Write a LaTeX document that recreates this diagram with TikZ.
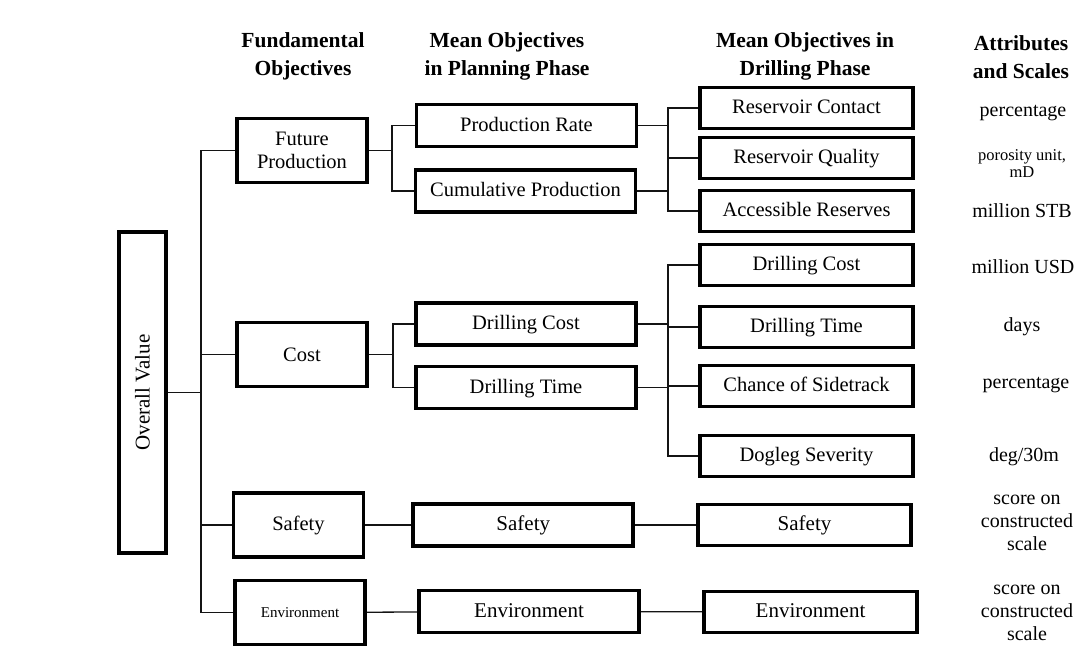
\documentclass[tikz,border=0pt]{standalone}
\usepackage{fontspec}
\setmainfont{Liberation Serif}
\usepackage{xcolor}
\usepackage{tikz}
\usetikzlibrary{positioning, calc}
\definecolor{boxblack}{RGB}{0, 0, 0}
\definecolor{linkgray}{RGB}{20, 20, 20}

\begin{document}
\begin{tikzpicture}[
    x=1pt, y=-1pt,
    every node/.style={font=\fontsize{20.5}{22.5}\selectfont},
    rootbox/.style={rectangle, draw=boxblack, line width=3.8pt, minimum width=47pt,
                    minimum height=321pt, inner sep=0pt},
    fundbox/.style={rectangle, draw=boxblack, line width=3.8pt, minimum width=130pt,
                    minimum height=64pt, align=center, inner sep=2pt},
    meanbox/.style={rectangle, draw=boxblack, line width=3.8pt, minimum width=220pt,
                    minimum height=42pt, align=center, inner sep=2pt,
                    text height=15pt, text depth=4pt},
    drillbox/.style={rectangle, draw=boxblack, line width=3.8pt, minimum width=213pt,
                     minimum height=41pt, align=center, inner sep=2pt,
                     text height=15pt, text depth=4pt},
    headtext/.style={align=center, font=\fontsize{21.5}{28}\selectfont\bfseries},
    scaletext/.style={align=center, font=\fontsize{20}{23}\selectfont},
    link/.style={line width=1.3pt, color=linkgray}
]
\useasboundingbox (0,0) rectangle (1079,654);

% Headers
\node[headtext] (h1) at (303,56) {Fundamental\\Objectives};
\node[headtext] (h2) at (507,56) {Mean Objectives\\in Planning Phase};
\node[headtext] (h3) at (805,56) {Mean Objectives in\\Drilling Phase};
\node[headtext] (h4) at (1021,57) {Attributes\\and Scales};

% Root
\node[rootbox] (ov) at (142.5,392.5) {\rotatebox{90}{\fontsize{21}{22}\selectfont Overall Value}};

% Fundamental objectives
\node[fundbox] (fp) at (302,150.5) {Future\\Production};
\node[fundbox] (cost) at (302,354.5) {Cost};
\node[fundbox] (safety) at (298.5,525) {Safety};
\node[fundbox, font=\fontsize{15}{18}\selectfont] (env) at (300,612.5) {Environment};

% Planning phase
\node[meanbox] (pr) at (526.5,125.5) {Production Rate};
\node[meanbox] (cp) at (525.5,191) {Cumulative Production};
\node[meanbox] (dc) at (526,324) {Drilling Cost};
\node[meanbox] (dt) at (526,387.5) {Drilling Time};
\node[meanbox, font=\fontsize{21}{22}\selectfont, right=46pt of safety] (safm) {Safety};
\node[meanbox, font=\fontsize{21}{22}\selectfont] (envm) at (529,611.5) {Environment};

% Drilling phase
\node[drillbox] (rc) at (806.5,108) {Reservoir Contact};
\node[drillbox] (rq) at (806.5,158) {Reservoir Quality};
\node[drillbox] (ar) at (806.5,211) {Accessible Reserves};
\node[drillbox] (dcr) at (806.5,265) {Drilling Cost};
\node[drillbox] (dtr) at (806.5,327) {Drilling Time};
\node[drillbox] (cs) at (806.5,386) {Chance of Sidetrack};
\node[drillbox] (ds) at (806.5,456) {Dogleg Severity};
\node[drillbox, font=\fontsize{21}{22}\selectfont] (safr) at (804.5,525) {Safety};
\node[drillbox, font=\fontsize{21}{22}\selectfont] (envr) at (810.5,612) {Environment};

% Attributes
\node[scaletext] (a1) at (1023,113) {percentage};
\node[scaletext, font=\fontsize{16.5}{17}\selectfont] (a2) at (1022,164) {porosity unit,\\mD};
\node[scaletext] (a3) at (1022,211) {million STB};
\node[scaletext] (a4) at (1023,267) {million USD};
\node[scaletext] (a5) at (1022,327) {days};
\node[scaletext] (a6) at (1026,385) {percentage};
\node[scaletext] (a7) at (1024,457) {deg/30m};
\node[scaletext] (a8) at (1027,523) {score on\\constructed\\scale};
\node[scaletext] (a9) at (1027,613) {score on\\constructed\\scale};

% Junctions
\coordinate (trunk) at (201,0);
\coordinate (jfp) at (392,0);
\coordinate (jc) at (393,0);
\coordinate (jr) at (668,0);

% Root links
\draw[link] (ov.east) -- (ov.east -| trunk);
\draw[link] (fp.west) -| (trunk |- env.west) -- (env.west);
\draw[link] (cost.west) -- (cost.west -| trunk);
\draw[link] (safety.west) -- (safety.west -| trunk);

% Planning links
\draw[link] (fp.east) -- (fp.east -| jfp);
\draw[link] (pr.west) -| (jfp |- cp.west) -- (cp.west);
\draw[link] (cost.east) -- (cost.east -| jc);
\draw[link] (dc.west) -| (jc |- dt.west) -- (dt.west);
\draw[link] (safety) -- (safm);
\draw[link] (env) -- (envm);

% Drilling links
\draw[link] (pr.east) -- (pr.east -| jr);
\draw[link] (cp.east) -- (cp.east -| jr);
\draw[link] (rc.west) -| (jr |- ar.west) -- (ar.west);
\draw[link] (rq.west) -- (rq.west -| jr);
\draw[link] (dc.east) -- (dc.east -| jr);
\draw[link] (dt.east) -- (dt.east -| jr);
\draw[link] (dcr.west) -| (jr |- ds.west) -- (ds.west);
\draw[link] (dtr.west) -- (dtr.west -| jr);
\draw[link] (cs.west) -- (cs.west -| jr);
\draw[link] (safm) -- (safr);
\draw[link] (envm) -- (envr);

\end{tikzpicture}
\end{document}
